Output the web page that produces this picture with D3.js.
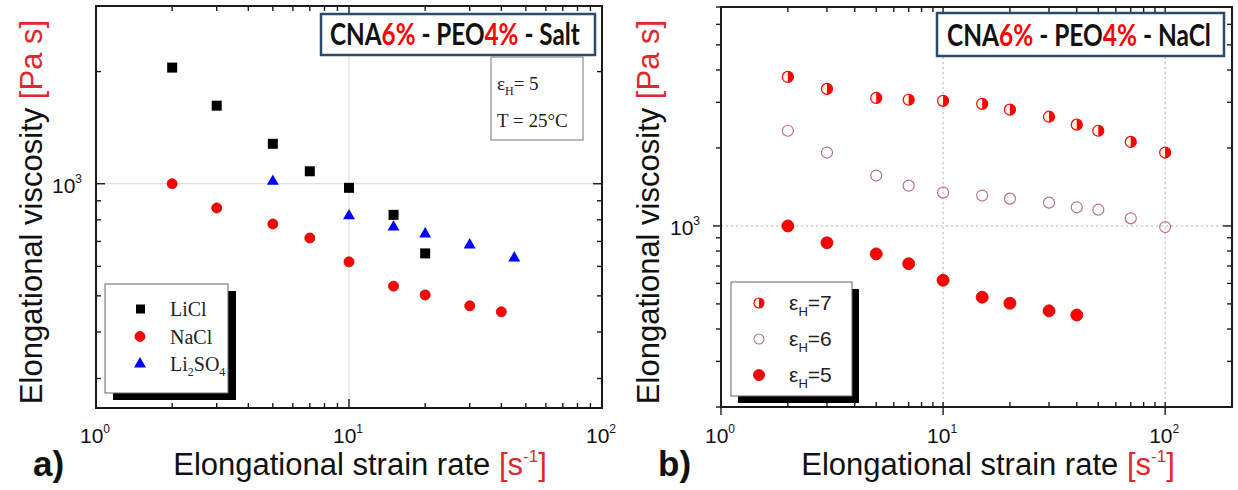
<!DOCTYPE html>
<html>
<head>
<meta charset="utf-8">
<script src="https://d3js.org/d3.v7.min.js"></script>
<style>
  body { margin: 0; background: #fff; }
  svg { display: block; font-family: "Liberation Sans", Arial, sans-serif; }
</style>
</head>
<body>
<div id="chart"></div>
<script>
// DATA
// panel a: CNA6% - PEO4% - salt, eps_H = 5
const rateLiCl = [2, 3, 5, 7, 10, 15, 20];
const viscLiCl = [2050, 1620, 1280, 1080, 975, 825, 650];
const rateNaCl = [2, 3, 5, 7, 10, 15, 20, 30, 40];
const viscNaCl = [1000, 861, 780, 715, 617, 531, 503, 470, 453];
const rateLi2SO4 = [5, 10, 15, 20, 30, 45];
const viscLi2SO4 = [1015, 820, 765, 733, 685, 632];

// panel b: CNA6% - PEO4% - NaCl, different Hencky strains
const rateEps = [2, 3, 5, 7, 10, 15, 20, 30, 40, 50, 70, 100];
const viscEps7 = [3760, 3380, 3120, 3070, 3040, 2960, 2810, 2640, 2460, 2330, 2110, 1920];
const viscEps6 = [2330, 1920, 1565, 1430, 1345, 1310, 1275, 1230, 1180, 1155, 1070, 990];
const rateEps5 = [2, 3, 5, 7, 10, 15, 20, 30, 40];
const viscEps5 = [1000, 861, 780, 715, 617, 531, 503, 470, 453];

const xLabelExps = [0, 1, 2];
const yLabelExps = [3];

const RED = "#ff0000";
const TXTRED = "#e3262b";

const svg = d3.select("#chart").append("svg")
  .attr("width", 1238)
  .attr("height", 490);

const isMajor = (v) => Math.abs(Math.log10(v) - Math.round(Math.log10(v))) < 1e-6;
const pts = (xs, ys) => xs.map((x, i) => ({ x: x, y: ys[i] }));

function panel(p) {
  const x = d3.scaleLog().domain(p.xDomain).range([p.left, p.right]);
  const y = d3.scaleLog().domain(p.yDomain).range([p.bottom, p.top]);
  const g = svg.append("g");

  // grid lines
  const grid = g.append("g").attr("stroke", p.gridColor).attr("stroke-width", 1)
    .attr("stroke-dasharray", p.gridDash);
  grid.selectAll("line.gx").data(p.gridX).enter().append("line")
    .attr("x1", (d) => x(d)).attr("x2", (d) => x(d))
    .attr("y1", p.top).attr("y2", p.bottom);
  grid.selectAll("line.gy").data(p.gridY).enter().append("line")
    .attr("x1", p.left).attr("x2", p.right)
    .attr("y1", (d) => y(d)).attr("y2", (d) => y(d));

  // ticks on all four sides (log ticks, majors at decades)
  const ticks = g.append("g").attr("stroke", "#1a1a1a").attr("stroke-width", 1.4);
  const xt = x.ticks().filter((d) => d > p.xDomain[0] && d < p.xDomain[1] || isMajor(d));
  const yt = y.ticks();
  ticks.selectAll("line.tb").data(xt).enter().append("line")
    .attr("x1", (d) => x(d)).attr("x2", (d) => x(d))
    .attr("y1", (d) => p.bottom + p.bottomTick(isMajor(d))[0])
    .attr("y2", (d) => p.bottom + p.bottomTick(isMajor(d))[1]);
  ticks.selectAll("line.tt").data(xt).enter().append("line")
    .attr("x1", (d) => x(d)).attr("x2", (d) => x(d))
    .attr("y1", p.top).attr("y2", (d) => p.top + (isMajor(d) ? 9 : 5));
  ticks.selectAll("line.tl").data(yt).enter().append("line")
    .attr("y1", (d) => y(d)).attr("y2", (d) => y(d))
    .attr("x1", (d) => p.left + p.leftTick(isMajor(d))[0])
    .attr("x2", (d) => p.left + p.leftTick(isMajor(d))[1]);
  ticks.selectAll("line.tr").data(yt).enter().append("line")
    .attr("y1", (d) => y(d)).attr("y2", (d) => y(d))
    .attr("x1", p.right).attr("x2", (d) => p.right - (isMajor(d) ? 9 : 5));

  // frame
  g.append("rect")
    .attr("x", p.left).attr("y", p.top)
    .attr("width", p.right - p.left).attr("height", p.bottom - p.top)
    .attr("fill", "none").attr("stroke", "#1a1a1a").attr("stroke-width", 2);

  // tick labels 10^n
  xLabelExps.forEach((e) => {
    const t = g.append("text").attr("x", x(Math.pow(10, e)) - 1).attr("y", 443)
      .attr("text-anchor", "middle").style("font-size", "21px").attr("fill", "#111");
    t.append("tspan").text("10");
    t.append("tspan").attr("dy", -10).style("font-size", "12px").text(e);
  });
  yLabelExps.forEach((e) => {
    const t = g.append("text").attr("x", p.left - p.yLabelGap).attr("y", y(Math.pow(10, e)) + 9)
      .attr("text-anchor", "end").style("font-size", "21px").attr("fill", "#111");
    t.append("tspan").text("10");
    t.append("tspan").attr("dy", -10).style("font-size", "12px").text(e);
  });

  // axis titles
  const xtt = g.append("text").attr("x", p.xTitleX).attr("y", 475)
    .attr("text-anchor", "middle").style("font-size", "31px").attr("fill", "#111");
  xtt.append("tspan").text("Elongational strain rate ");
  xtt.append("tspan").attr("fill", TXTRED).text("[s");
  xtt.append("tspan").attr("fill", TXTRED).attr("dy", -13).style("font-size", "17px").text("-1");
  xtt.append("tspan").attr("fill", TXTRED).attr("dy", 13).text("]");

  const ytt = g.append("text")
    .attr("transform", `translate(${p.yTitleX},212) rotate(-90)`)
    .attr("text-anchor", "middle").style("font-size", "31px").attr("fill", "#111");
  ytt.append("tspan").text("Elongational viscosity ");
  ytt.append("tspan").attr("fill", TXTRED).text("[Pa s]");

  g.append("text").attr("x", p.left - 63).attr("y", 476)
    .style("font-size", "35px").style("font-weight", "bold").attr("fill", "#111")
    .text(p.tag);

  // title box
  g.append("rect")
    .attr("x", p.box[0]).attr("y", p.box[1]).attr("width", p.box[2]).attr("height", p.box[3])
    .attr("fill", "#fff").attr("stroke", "#2c4a6e").attr("stroke-width", 2.5);
  const bt = g.append("text").attr("y", 0).attr("x", 0)
    .style("font-family", "Lato, 'Open Sans', sans-serif")
    .style("font-size", "30px").style("font-weight", "bold").attr("fill", "#111");
  [["CNA", "#111"], ["6%", RED], [" - PEO", "#111"], ["4%", RED], [" - " + p.salt, "#111"]]
    .forEach((s) => bt.append("tspan").attr("fill", s[1]).text(s[0]));
  const sx = p.boxText[2] / bt.node().getComputedTextLength();
  bt.attr("transform", `translate(${p.boxText[0]},${p.boxText[1]}) scale(${sx},1)`);

  return { g: g, x: x, y: y };
}

// ---------- PANEL A ----------
const A = panel({
  left: 96, right: 602, top: 6, bottom: 408,
  xDomain: [1, 100], yDomain: [250, 3000],
  gridX: [10], gridY: [1000], gridColor: "#d6d6d6", gridDash: null,
  bottomTick: (m) => [0, m ? -9 : -5],
  leftTick: (m) => [0, m ? 9 : 5],
  yLabelGap: 14, xTitleX: 360, yTitleX: 42, tag: "a)",
  box: [321, 14, 274, 41], boxText: [330, 45, 250], salt: "Salt"
});

A.g.append("g").selectAll("rect").data(pts(rateLiCl, viscLiCl)).enter().append("rect")
  .attr("x", (d) => A.x(d.x) - 5).attr("y", (d) => A.y(d.y) - 5)
  .attr("width", 10).attr("height", 10).attr("fill", "#000");

A.g.append("g").selectAll("circle").data(pts(rateNaCl, viscNaCl)).enter().append("circle")
  .attr("cx", (d) => A.x(d.x)).attr("cy", (d) => A.y(d.y)).attr("r", 5)
  .attr("fill", RED).attr("stroke", "#c40000").attr("stroke-width", 0.8);

const tri = d3.symbol().type(d3.symbolTriangle).size(62);
A.g.append("g").selectAll("path").data(pts(rateLi2SO4, viscLi2SO4)).enter().append("path")
  .attr("d", tri).attr("transform", (d) => `translate(${A.x(d.x)},${A.y(d.y)})`)
  .attr("fill", "#0000ff");

// conditions box
A.g.append("rect").attr("x", 491).attr("y", 57).attr("width", 92).attr("height", 83)
  .attr("fill", "#fff").attr("stroke", "#777").attr("stroke-width", 1);
const c1 = A.g.append("text").attr("x", 497).attr("y", 90)
  .style("font-family", "'Liberation Serif', 'DejaVu Serif', serif").style("font-size", "19px").attr("fill", "#222");
c1.append("tspan").text("ε");
c1.append("tspan").attr("dy", 5).style("font-size", "12px").text("H");
c1.append("tspan").attr("dy", -5).text("= 5");
const c2 = A.g.append("text").attr("x", 497).attr("y", 127)
  .style("font-family", "'Liberation Serif', 'DejaVu Serif', serif").style("font-size", "19px").attr("fill", "#222");
c2.append("tspan").text("T = 25°C");

// legend a
A.g.append("rect").attr("x", 113).attr("y", 291).attr("width", 123).attr("height", 109).attr("fill", "#000");
A.g.append("rect").attr("x", 105).attr("y", 284).attr("width", 123).attr("height", 109)
  .attr("fill", "#fff").attr("stroke", "#666").attr("stroke-width", 1);
const legA = [
  { name: ["LiCl"], kind: "sq" },
  { name: ["NaCl"], kind: "ci" },
  { name: ["Li", "2", "SO", "4"], kind: "tr" }
];
legA.forEach((l, i) => {
  const ly = 309 + i * 27.5;
  if (l.kind === "sq") A.g.append("rect").attr("x", 136).attr("y", ly - 4.5).attr("width", 9).attr("height", 9).attr("fill", "#000");
  if (l.kind === "ci") A.g.append("circle").attr("cx", 140).attr("cy", ly).attr("r", 5).attr("fill", RED).attr("stroke", "#c40000").attr("stroke-width", 0.8);
  if (l.kind === "tr") A.g.append("path").attr("d", tri).attr("transform", `translate(140,${ly})`).attr("fill", "#0000ff");
  const t = A.g.append("text").attr("x", 170).attr("y", ly + 7)
    .style("font-family", "'Liberation Serif', 'DejaVu Serif', serif").style("font-size", "20px").attr("fill", "#222");
  l.name.forEach((s, k) => {
    const sub = k % 2 === 1;
    t.append("tspan").attr("dy", sub ? 5 : (k > 0 ? -5 : 0)).style("font-size", sub ? "12px" : "20px").text(s);
  });
});

// ---------- PANEL B ----------
const B = panel({
  left: 721, right: 1232, top: 7, bottom: 407,
  xDomain: [1, 200], yDomain: [200, 7000],
  gridX: [10, 100], gridY: [1000], gridColor: "#b0b0b0", gridDash: "2,3",
  bottomTick: (m) => (m ? [-5, 8] : [0, -5]),
  leftTick: (m) => (m ? [-8, 0] : [-5, 0]),
  yLabelGap: 21, xTitleX: 988, yTitleX: 659, tag: "b)",
  box: [937, 13, 287, 43], boxText: [947, 46, 264], salt: "NaCl"
});

const halfRight = (r) => `M0,${-r}A${r},${r} 0 0 1 0,${r}Z`;

function halfMarker(gg, cx, cy, r) {
  gg.append("circle").attr("cx", cx).attr("cy", cy).attr("r", r)
    .attr("fill", "#fff6e8").attr("stroke", RED).attr("stroke-width", 1.2);
  gg.append("path").attr("d", halfRight(r)).attr("transform", `translate(${cx},${cy})`).attr("fill", RED);
}

const g7 = B.g.append("g");
pts(rateEps, viscEps7).forEach((d) => halfMarker(g7, B.x(d.x), B.y(d.y), 5.5));

B.g.append("g").selectAll("circle").data(pts(rateEps, viscEps6)).enter().append("circle")
  .attr("cx", (d) => B.x(d.x)).attr("cy", (d) => B.y(d.y)).attr("r", 5.5)
  .attr("fill", "none").attr("stroke", "#c0707a").attr("stroke-width", 1.2);

B.g.append("g").selectAll("circle").data(pts(rateEps5, viscEps5)).enter().append("circle")
  .attr("cx", (d) => B.x(d.x)).attr("cy", (d) => B.y(d.y)).attr("r", 6)
  .attr("fill", RED).attr("stroke", "#c40000").attr("stroke-width", 0.8);

// legend b
B.g.append("rect").attr("x", 738).attr("y", 289).attr("width", 121).attr("height", 114).attr("fill", "#000");
B.g.append("rect").attr("x", 731).attr("y", 282).attr("width", 121).attr("height", 114)
  .attr("fill", "#fff").attr("stroke", "#666").attr("stroke-width", 1);
const legB = ["7", "6", "5"];
legB.forEach((n, i) => {
  const ly = 303 + i * 36;
  if (n === "7") halfMarker(B.g, 759, ly, 5);
  if (n === "6") B.g.append("circle").attr("cx", 759).attr("cy", ly).attr("r", 5)
    .attr("fill", "none").attr("stroke", "#c0707a").attr("stroke-width", 1.1);
  if (n === "5") B.g.append("circle").attr("cx", 759).attr("cy", ly).attr("r", 5.5)
    .attr("fill", RED).attr("stroke", "#c40000").attr("stroke-width", 0.8);
  const t = B.g.append("text").attr("x", 789).attr("y", ly + 7)
    .style("font-size", "21px").attr("fill", "#222");
  t.append("tspan").text("ε");
  t.append("tspan").attr("dy", 6).style("font-size", "13px").text("H");
  t.append("tspan").attr("dy", -6).text("=" + n);
});
</script>
</body>
</html>
